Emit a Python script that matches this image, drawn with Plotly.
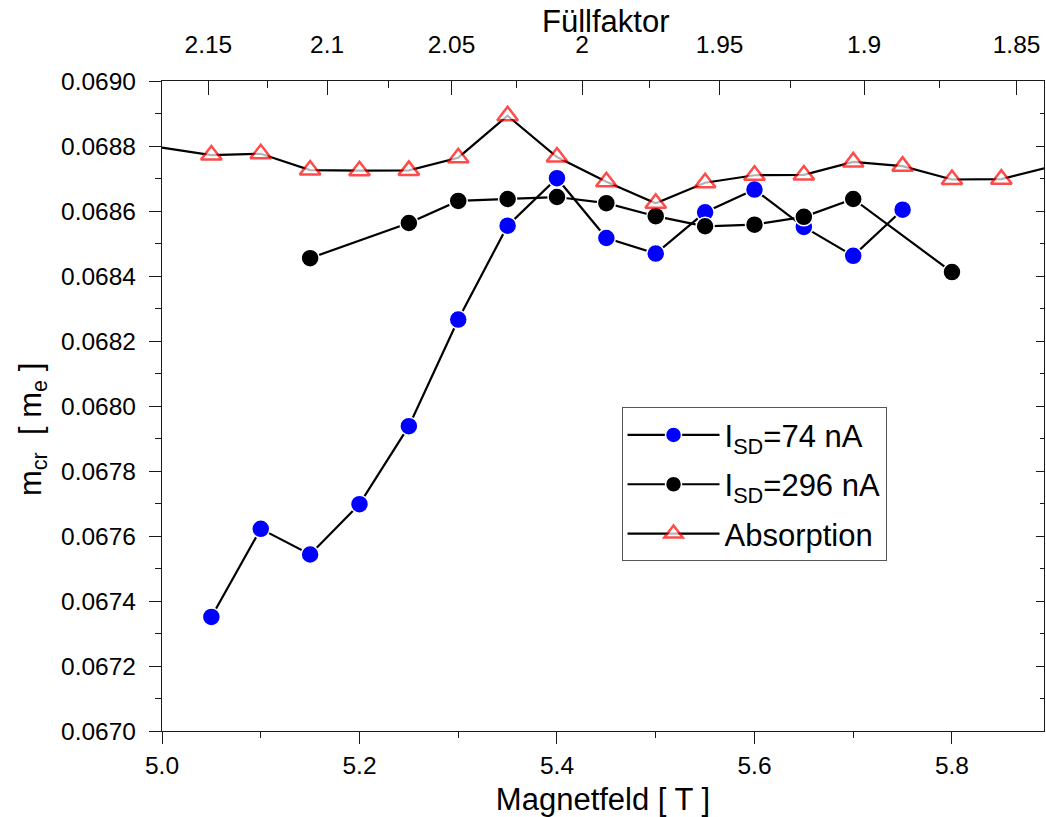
import plotly.graph_objects as go

# Cyclotron-resonance mass versus magnetic field
B_74 = [5.05, 5.10, 5.15, 5.20, 5.25, 5.30, 5.35, 5.40, 5.45, 5.50, 5.55, 5.60, 5.65, 5.70, 5.75]
m_74 = [0.067351, 0.067622, 0.067543, 0.067698, 0.067938, 0.068266, 0.068555, 0.068701,
        0.068517, 0.068469, 0.068596, 0.068666, 0.068551, 0.068462, 0.068604]

B_296 = [5.15, 5.25, 5.30, 5.35, 5.40, 5.45, 5.50, 5.55, 5.60, 5.65, 5.70, 5.80]
m_296 = [0.068455, 0.068563, 0.068631, 0.068637, 0.068643, 0.068624, 0.068584, 0.068553,
         0.068558, 0.068582, 0.068637, 0.068412]

B_abs = [5.00, 5.05, 5.10, 5.15, 5.20, 5.25, 5.30, 5.35, 5.40, 5.45, 5.50, 5.55, 5.60,
         5.65, 5.70, 5.75, 5.80, 5.85, 5.90]
m_abs = [0.068795, 0.068772, 0.068776, 0.068726, 0.068724, 0.068725, 0.068764, 0.068893,
         0.068766, 0.068690, 0.068624, 0.068687, 0.068710, 0.068711, 0.068751, 0.068738,
         0.068697, 0.068698, 0.068736]

# Filling factor axis: nu = NU_B / B
NU_B = 10.851
nu_ticks = [2.15, 2.10, 2.05, 2.00, 1.95, 1.90, 1.85]
nu_labels = ["2.15", "2.1", "2.05", "2", "1.95", "1.9", "1.85"]
nu_minor = [2.125, 2.075, 2.025, 1.975, 1.925, 1.875]

B_ticks = [5.0, 5.2, 5.4, 5.6, 5.8]
X_RANGE = [5.0, 5.8932]
Y_RANGE = [0.0670, 0.0690]

FONT = "Arial, Liberation Sans, sans-serif"
AX = "#1a1a1a"
LW = 2.2

fig = go.Figure()

fig.add_trace(go.Scatter(
    x=B_74, y=m_74, mode="lines+markers", name="I<sub>SD</sub>=74 nA", legendgroup="a",
    line=dict(color="black", width=LW),
    marker=dict(symbol="circle", size=18, color="#0000ff", line=dict(color="white", width=1.5)),
))
fig.add_trace(go.Scatter(
    x=B_296, y=m_296, mode="lines+markers", name="I<sub>SD</sub>=296 nA", legendgroup="b",
    line=dict(color="black", width=LW),
    marker=dict(symbol="circle", size=18, color="black", line=dict(color="white", width=1.5)),
))
# end points only continue the line past the frame, without a marker
abs_sizes = [0 if (b < 5.02 or b > X_RANGE[1]) else 18 for b in B_abs]
fig.add_trace(go.Scatter(
    x=B_abs, y=m_abs, mode="lines+markers", name="Absorption", legendgroup="c",
    line=dict(color="black", width=LW),
    marker=dict(symbol="triangle-up", size=abs_sizes, color="white",
                line=dict(color="#ff0000", width=2.5)),
))

# carriers for the secondary (top / right) axes
fig.add_trace(go.Scatter(x=[X_RANGE[0]], y=[Y_RANGE[0]], xaxis="x2", yaxis="y",
                         mode="markers", marker=dict(opacity=0), showlegend=False, hoverinfo="skip"))
fig.add_trace(go.Scatter(x=[X_RANGE[0]], y=[Y_RANGE[0]], xaxis="x", yaxis="y2",
                         mode="markers", marker=dict(opacity=0), showlegend=False, hoverinfo="skip"))

# axis titles placed as annotations (y title and top title)
fig.add_annotation(
    text="m<sub>cr</sub>&nbsp; [ m<sub>e</sub> ]", textangle=-90,
    xref="paper", yref="paper", x=-0.1463, y=0.4644,
    xanchor="center", yanchor="middle", showarrow=False,
    font=dict(family=FONT, size=31, color="black"),
)
fig.add_annotation(
    text="Füllfaktor",
    xref="paper", yref="paper", x=0.5034, y=1.0915,
    xanchor="center", yanchor="middle", showarrow=False, borderpad=0,
    font=dict(family=FONT, size=31, color="black"),
)

fig.update_layout(
    width=1046, height=817,
    margin=dict(l=162, r=2, t=81, b=86),
    paper_bgcolor="white", plot_bgcolor="white",
    font=dict(family=FONT, color="black", size=24),
    showlegend=True,
    legend=dict(
        x=0.521, y=0.498, xanchor="left", yanchor="top",
        bgcolor="white", bordercolor="#555555", borderwidth=1,
        font=dict(family=FONT, size=31, color="black"),
        tracegroupgap=6, itemwidth=92,
    ),
    xaxis=dict(
        range=X_RANGE, tickmode="array", tickvals=B_ticks,
        ticktext=[f"{b:.1f}" for b in B_ticks],
        ticks="outside", ticklen=12, tickwidth=1.3, tickcolor=AX,
        minor=dict(dtick=0.1, tick0=5.0, ticks="outside", ticklen=6, tickwidth=1.3, tickcolor=AX),
        showline=True, linecolor=AX, linewidth=1.3, mirror=False,
        showgrid=False, zeroline=False,
        tickfont=dict(size=24.5),
        title=dict(text="Magnetfeld [ T ]", font=dict(size=31), standoff=10),
    ),
    xaxis2=dict(
        overlaying="x", side="top", anchor="y", range=X_RANGE,
        tickmode="array", tickvals=[NU_B / v for v in nu_ticks], ticktext=nu_labels,
        ticks="inside", ticklen=14, tickwidth=1.3, tickcolor=AX,
        minor=dict(tickmode="array", tickvals=[NU_B / v for v in nu_minor],
                   ticks="inside", ticklen=7, tickwidth=1.3, tickcolor=AX),
        showline=True, linecolor=AX, linewidth=1.3,
        showgrid=False, zeroline=False,
        tickfont=dict(size=24.5), ticklabelstandoff=17,
    ),
    yaxis=dict(
        range=Y_RANGE, tickmode="linear", tick0=0.0670, dtick=0.0002, tickformat=".4f",
        ticks="outside", ticklen=12, tickwidth=1.3, tickcolor=AX,
        minor=dict(dtick=0.0001, tick0=0.0670, ticks="outside", ticklen=6, tickwidth=1.3, tickcolor=AX),
        showline=True, linecolor=AX, linewidth=1.3,
        showgrid=False, zeroline=False,
        tickfont=dict(size=24.5), ticklabelstandoff=8,
    ),
    yaxis2=dict(
        overlaying="y", side="right", anchor="x", range=Y_RANGE,
        tickmode="linear", tick0=0.0670, dtick=0.0002, showticklabels=False,
        ticks="inside", ticklen=8, tickwidth=1.3, tickcolor=AX,
        minor=dict(dtick=0.0001, tick0=0.0670, ticks="inside", ticklen=4, tickwidth=1.3, tickcolor=AX),
        showline=True, linecolor=AX, linewidth=1.3,
        showgrid=False, zeroline=False,
    ),
)

fig.write_html("out.html")
